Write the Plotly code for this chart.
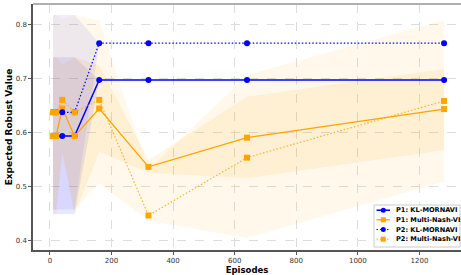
import plotly.graph_objects as go

episodes = [10, 20, 40, 80, 160, 320, 640, 1280]

p1_kl = [0.593, 0.593, 0.593, 0.593, 0.697, 0.697, 0.697, 0.697]
p1_kl_lo = [0.448, 0.448, 0.448, 0.448, 0.697, 0.697, 0.697, 0.697]
p1_kl_hi = [0.739, 0.739, 0.739, 0.739, 0.697, 0.697, 0.697, 0.697]

p2_kl = [0.637, 0.637, 0.637, 0.637, 0.765, 0.765, 0.765, 0.765]
p2_kl_lo = [0.457, 0.457, 0.457, 0.457, 0.765, 0.765, 0.765, 0.765]
p2_kl_hi = [0.817, 0.817, 0.817, 0.817, 0.765, 0.765, 0.765, 0.765]

p1_mn = [0.593, 0.593, 0.644, 0.593, 0.644, 0.536, 0.590, 0.643]
p1_mn_lo = [0.448, 0.448, 0.562, 0.448, 0.564, 0.525, 0.515, 0.567]
p1_mn_hi = [0.739, 0.739, 0.726, 0.739, 0.724, 0.548, 0.666, 0.717]

p2_mn = [0.637, 0.637, 0.660, 0.637, 0.660, 0.446, 0.553, 0.658]
p2_mn_lo = [0.457, 0.457, 0.565, 0.457, 0.506, 0.436, 0.404, 0.509]
p2_mn_hi = [0.817, 0.817, 0.810, 0.817, 0.807, 0.530, 0.706, 0.808]

series_names = ["P1: KL-MORNAVI", "P1: Multi-Nash-VI", "P2: KL-MORNAVI", "P2: Multi-Nash-VI"]

x_ticks = [0, 200, 400, 600, 800, 1000, 1200]
y_ticks = [0.4, 0.5, 0.6, 0.7, 0.8]

BLUE = "#0000ff"
ORANGE = "#ffa500"
DOT = "1.5px,2px"

fig = go.Figure()

def band(lo, hi, color):
    fig.add_trace(go.Scatter(
        x=episodes + episodes[::-1], y=hi + lo[::-1],
        fill="toself", fillcolor=color, line=dict(width=0),
        mode="lines", showlegend=False, hoverinfo="skip"))

band(p1_kl_lo, p1_kl_hi, "rgba(0,0,255,0.09)")
band(p1_mn_lo, p1_mn_hi, "rgba(255,165,0,0.10)")
band(p2_kl_lo, p2_kl_hi, "rgba(0,0,255,0.07)")
band(p2_mn_lo, p2_mn_hi, "rgba(255,165,0,0.08)")

styles = [
    (p1_kl, BLUE, "solid", 1.5, "circle"),
    (p1_mn, ORANGE, "solid", 1.3, "square"),
    (p2_kl, BLUE, DOT, 1.2, "circle"),
    (p2_mn, "rgba(255,165,0,0.8)", DOT, 1.2, "square"),
]
for (vals, col, dash, w, sym), name in zip(styles, series_names):
    fig.add_trace(go.Scatter(x=episodes, y=vals, mode="lines+markers", name=name,
                             showlegend=False,
                             line=dict(color=col, width=w, dash=dash),
                             marker=dict(symbol=sym, size=6, color=col.replace("0.8", "1"))))

# manual legend (paper coordinates)
L, R, T, B = 33, 461, 4, 250
def px(v):
    return (v - L) / (R - L)
def py(v):
    return (B - v) / (B - T)

shapes = [dict(type="line", xref="paper", yref="paper", x0=0, x1=1, y0=1, y1=1,
               line=dict(color="#b0b0b0", width=2)),
          dict(type="rect", xref="paper", yref="paper", x0=px(374), x1=px(460),
               y0=py(247), y1=py(205), line=dict(color="#cccccc", width=1),
               fillcolor="rgba(255,255,255,0.85)", layer="above")]
annotations = []
rows = [210.2, 219.8, 229.5, 239.2]
for (vals, col, dash, w, sym), name, ry in zip(styles, series_names, rows):
    solidcol = col.replace("0.8", "1")
    shapes.append(dict(type="line", xref="paper", yref="paper", x0=px(376.5), x1=px(390),
                       y0=py(ry), y1=py(ry), layer="above",
                       line=dict(color=col, width=w if dash == "solid" else 1.2,
                                 dash=dash)))
    shp = "circle" if sym == "circle" else "rect"
    shapes.append(dict(type=shp, xref="paper", yref="paper", x0=px(380.8), x1=px(385.8),
                       y0=py(ry + 2.5), y1=py(ry - 2.5), layer="above",
                       line=dict(width=0), fillcolor=solidcol))
    annotations.append(dict(xref="paper", yref="paper", x=px(393.5), y=py(ry), text="<b>" + name + "</b>",
                            showarrow=False, xanchor="left", yanchor="middle",
                            font=dict(family="DejaVu Sans", size=6.6, color="black")))

fig.update_layout(
    width=461, height=275,
    margin=dict(l=L, r=461 - R, t=T, b=275 - B, autoexpand=False),
    plot_bgcolor="white", paper_bgcolor="white",
    font=dict(family="DejaVu Sans", size=7, color="#333333"),
    showlegend=False,
    shapes=shapes, annotations=annotations,
)
fig.update_xaxes(range=[-55, 1335], tickvals=x_ticks, ticks="outside", ticklen=3,
                 tickcolor="#555555", showline=True, linecolor="#555555", linewidth=1.5,
                 showgrid=True, gridcolor="#dddddd", griddash="dash", gridwidth=0.8,
                 zeroline=False, automargin=False,
                 title=dict(text="<b>Episodes</b>", font=dict(size=8.5, color="black")))
fig.update_yaxes(range=[0.382, 0.8376], tickvals=y_ticks, tickformat=".1f", ticks="outside",
                 ticklen=3, tickcolor="#555555", showline=True, linecolor="#555555", linewidth=1.5,
                 showgrid=True, gridcolor="#dddddd", griddash="dash", gridwidth=0.8,
                 zeroline=False, automargin=True,
                 title=dict(text="<b>Expected Robust Value</b>", font=dict(size=9, color="black"),
                            standoff=2))

fig.write_html("out.html", config={"displayModeBar": False},
               post_script="document.body.style.margin='0';document.body.style.overflow='hidden';")
